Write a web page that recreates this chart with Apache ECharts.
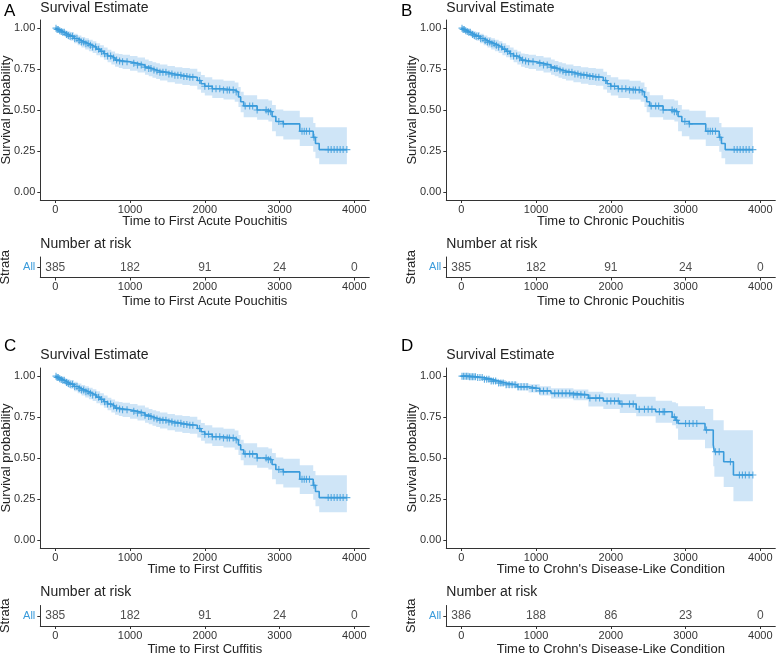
<!DOCTYPE html>
<html><head><meta charset="utf-8">
<script src="https://cdn.jsdelivr.net/npm/echarts@6.0.0/dist/echarts.min.js"></script>
<style>html,body{margin:0;padding:0;background:#fff}#c{width:777px;height:655px}</style>
</head><body><div id="c"></div>
<script>
// ---------- data ----------
const timeTicks = [0, 1000, 2000, 3000, 4000];
const probTicks = [0, 0.25, 0.5, 0.75, 1];
const strata = ['All'];

// Panels A, B, C (pouchitis / cuffitis) – identical-looking KM estimates
const kmTimeABC  = [0,25,50,75,100,125,150,175,200,250,300,350,400,450,500,550,600,650,700,750,800,850,900,1000,1100,1200,1250,1300,1350,1400,1500,1600,1700,1800,1900,1950,2000,2100,2250,2400,2450,2480,2520,2700,2850,2900,2950,3050,3270,3450,3480,3530,3900];
const kmSurvABC  = [1.000,0.992,0.985,0.980,0.975,0.968,0.962,0.956,0.950,0.937,0.925,0.915,0.905,0.895,0.885,0.872,0.858,0.844,0.830,0.818,0.805,0.800,0.795,0.785,0.775,0.762,0.754,0.745,0.738,0.730,0.720,0.712,0.705,0.700,0.680,0.660,0.645,0.630,0.622,0.610,0.580,0.550,0.525,0.500,0.490,0.460,0.430,0.415,0.370,0.333,0.295,0.258,0.258];
const kmLowerABC = [1.000,0.982,0.972,0.963,0.955,0.946,0.938,0.930,0.923,0.908,0.895,0.882,0.870,0.859,0.848,0.835,0.822,0.807,0.792,0.778,0.764,0.757,0.750,0.740,0.729,0.715,0.706,0.697,0.689,0.681,0.670,0.661,0.653,0.648,0.626,0.605,0.589,0.573,0.564,0.550,0.518,0.486,0.455,0.440,0.430,0.370,0.340,0.320,0.280,0.245,0.205,0.168,0.168];
const kmUpperABC = [1.000,1.000,0.998,0.996,0.993,0.989,0.985,0.981,0.976,0.966,0.955,0.946,0.938,0.929,0.920,0.908,0.895,0.882,0.868,0.857,0.846,0.842,0.838,0.830,0.821,0.808,0.800,0.792,0.785,0.778,0.769,0.762,0.756,0.752,0.733,0.714,0.700,0.686,0.679,0.668,0.640,0.612,0.590,0.566,0.558,0.530,0.503,0.495,0.455,0.420,0.395,0.395,0.395];
const censorABC  = [10,25,40,60,80,100,120,150,175,200,230,260,290,320,350,380,410,440,470,500,540,580,620,660,700,740,780,820,860,900,960,1050,1100,1150,1200,1250,1280,1320,1360,1400,1440,1480,1520,1560,1600,1640,1680,1720,1760,1800,1840,1930,2000,2050,2100,2150,2200,2250,2300,2330,2380,2420,2540,2600,2640,2700,2820,2850,2880,2990,3050,3300,3330,3360,3400,3460,3650,3690,3730,3770,3810,3850,3900];
const riskABC    = [385, 182, 91, 24, 0];
const riskB      = [385, 182, 91, 24, 0];
const riskC      = [385, 182, 91, 24, 0];

// Panel D (Crohn's disease-like condition)
const kmTimeD  = [0,100,200,300,400,500,600,750,900,1050,1200,1500,1700,1900,2120,2340,2600,2820,2870,2900,3260,3370,3385,3510,3640,3900];
const kmSurvD  = [1.000,0.997,0.992,0.982,0.970,0.958,0.948,0.935,0.925,0.910,0.895,0.886,0.866,0.848,0.830,0.798,0.783,0.750,0.730,0.711,0.671,0.580,0.538,0.477,0.396,0.396];
const kmLowerD = [1.000,0.992,0.984,0.970,0.955,0.940,0.928,0.912,0.900,0.882,0.864,0.853,0.815,0.800,0.775,0.755,0.715,0.700,0.680,0.612,0.560,0.450,0.386,0.323,0.235,0.235];
const kmUpperD = [1.000,1.000,1.000,0.994,0.985,0.976,0.968,0.958,0.950,0.938,0.926,0.919,0.905,0.895,0.890,0.875,0.850,0.840,0.835,0.817,0.800,0.730,0.730,0.670,0.670,0.670];
const censorD  = [10,30,50,70,90,110,130,150,170,190,220,250,280,310,340,370,400,430,460,500,530,560,600,640,680,720,760,800,840,880,950,1000,1050,1100,1150,1250,1300,1350,1400,1450,1500,1550,1600,1650,1720,1800,1850,1950,2000,2050,2100,2150,2250,2300,2380,2450,2500,2550,2650,2700,2720,2850,2880,3000,3050,3100,3150,3280,3400,3450,3600,3720,3760,3800,3850,3900];
const riskD    = [386, 188, 86, 23, 0];

// ---------- styling / layout ----------
const FONT = '"Liberation Sans", Arial, Helvetica, sans-serif';
const LINE_COLOR = '#3a9bdb';
const BAND_COLOR = '#cfe5f7';
const TXT = '#222';
const AX = '#333';

const panels = [
  {letter:'A', xTitle:'Time to First Acute Pouchitis', t:kmTimeABC, s:kmSurvABC, lo:kmLowerABC, hi:kmUpperABC, c:censorABC, risk:riskABC},
  {letter:'B', xTitle:'Time to Chronic Pouchitis',     t:kmTimeABC, s:kmSurvABC, lo:kmLowerABC, hi:kmUpperABC, c:censorABC, risk:riskB},
  {letter:'C', xTitle:'Time to First Cuffitis',        t:kmTimeABC, s:kmSurvABC, lo:kmLowerABC, hi:kmUpperABC, c:censorABC, risk:riskC},
  {letter:'D', xTitle:"Time to Crohn's Disease-Like Condition", t:kmTimeD, s:kmSurvD, lo:kmLowerD, hi:kmUpperD, c:censorD, risk:riskD}
];

const colLeft = [40.3, 446.3];
const W = 329;
const curveTop = [20, 368];
const curveH = 180;
const riskTop = [257, 605.5];
const riskH = 20.5;
const letterLeft = [4, 401];
const letterTop = [3, 338];
const titleTop = [1, 348];
const nrTop = [237, 585];

function stepAt(times, vals, x) {
  let v = vals[0];
  for (let i = 0; i < times.length; i++) { if (times[i] <= x) v = vals[i]; else break; }
  return v;
}
const PLUS = 'path://M-0.16,-1H0.16V1H-0.16Z M-1,-0.16H1V0.16H-1Z';

const grid = [], xAxis = [], yAxis = [], series = [], title = [];
const axLine = {show:true, onZero:false, lineStyle:{color:AX, width:1}};
const axTick = (vals) => ({show:true, length:3, customValues: vals, lineStyle:{color:AX, width:1}});
const plainNum = v => String(v);

panels.forEach((p, i) => {
  const col = i % 2, row = Math.floor(i / 2);
  const gC = 2 * i, gR = 2 * i + 1;
  grid.push({left: colLeft[col], top: curveTop[row], width: W, height: curveH, outerBoundsMode:'none'});
  grid.push({left: colLeft[col], top: riskTop[row], width: W, height: riskH, outerBoundsMode:'none'});

  const xBase = (gi, gap) => ({
    gridIndex: gi, type:'value', min:-200, max:4200,
    axisLine: axLine, axisTick: axTick(timeTicks),
    axisLabel:{customValues: timeTicks, margin:4, fontSize:11, color:AX, fontFamily:FONT, formatter: plainNum},
    splitLine:{show:false},
    name: p.xTitle, nameLocation:'middle', nameGap: gap, nameMoveOverlap:false,
    nameTextStyle:{fontSize:13, color:TXT, fontFamily:FONT}
  });
  xAxis.push(xBase(gC, 15));
  xAxis.push(xBase(gR, 17));

  yAxis.push({
    gridIndex: gC, type:'value', min:-0.05, max:1.05,
    axisLine: axLine, axisTick: axTick(probTicks),
    axisLabel:{customValues: probTicks, margin:5, fontSize:11, color:AX, fontFamily:FONT, formatter: v => v.toFixed(2)},
    splitLine:{show:false},
    name:'Survival probability', nameLocation:'middle', nameGap:27, nameMoveOverlap:false,
    nameTextStyle:{fontSize:13, color:TXT, fontFamily:FONT}
  });
  yAxis.push({
    gridIndex: gR, type:'category', data: strata,
    axisLine: axLine, axisTick:{show:true, length:3, alignWithLabel:true, lineStyle:{color:AX, width:1}},
    axisLabel:{margin:5, fontSize:11, color:LINE_COLOR, fontFamily:FONT},
    splitLine:{show:false},
    name:'Strata', nameLocation:'middle', nameGap:28, nameMoveOverlap:false,
    nameTextStyle:{fontSize:13, color:TXT, fontFamily:FONT}
  });

  // confidence band: step polygon built from the data through the axes
  series.push({type:'custom', xAxisIndex:gC, yAxisIndex:gC, silent:true, z:1,
    data: [0],
    renderItem: (params, api) => {
      const up = [], dn = [];
      for (let k = 0; k < p.t.length; k++) {
        const tNext = k < p.t.length - 1 ? p.t[k + 1] : p.t[k];
        up.push(api.coord([p.t[k], p.hi[k]]), api.coord([tNext, p.hi[k]]));
        dn.push(api.coord([p.t[k], p.lo[k]]), api.coord([tNext, p.lo[k]]));
      }
      return {type:'polygon', shape:{points: up.concat(dn.reverse())}, style:{fill:BAND_COLOR}};
    }
  });
  series.push({type:'line', xAxisIndex:gC, yAxisIndex:gC, step:'end', symbol:'none', silent:true,
    lineStyle:{color:LINE_COLOR, width:1.6}, data: p.t.map((t, k) => [t, p.s[k]]), z:3});
  series.push({type:'scatter', xAxisIndex:gC, yAxisIndex:gC, symbol:PLUS, symbolSize:7, silent:true,
    itemStyle:{color:LINE_COLOR}, data: p.c.map(t => [t, stepAt(p.t, p.s, t)]), z:4});
  series.push({type:'scatter', xAxisIndex:gR, yAxisIndex:gR, symbolSize:1, silent:true,
    itemStyle:{color:'rgba(0,0,0,0)'},
    label:{show:true, position:'inside', formatter: d => String(d.value[2]), fontSize:12, color:TXT, fontFamily:FONT},
    data: timeTicks.map((t, k) => [t, 0, p.risk[k]])});

  title.push({text:p.letter, left:letterLeft[col], top:letterTop[row], padding:0,
    textStyle:{fontSize:17, fontWeight:'normal', color:'#000', fontFamily:FONT}});
  title.push({text:'Survival Estimate', left:colLeft[col], top:titleTop[row], padding:0,
    textStyle:{fontSize:14, fontWeight:'normal', color:TXT, fontFamily:FONT}});
  title.push({text:'Number at risk', left:colLeft[col], top:nrTop[row], padding:0,
    textStyle:{fontSize:14, fontWeight:'normal', color:TXT, fontFamily:FONT}});
});

const chart = echarts.init(document.getElementById('c'), null, {renderer:'canvas'});
chart.setOption({
  animation:false, backgroundColor:'#fff',
  textStyle:{fontFamily:FONT},
  title, grid, xAxis, yAxis, series
});
</script></body></html>
